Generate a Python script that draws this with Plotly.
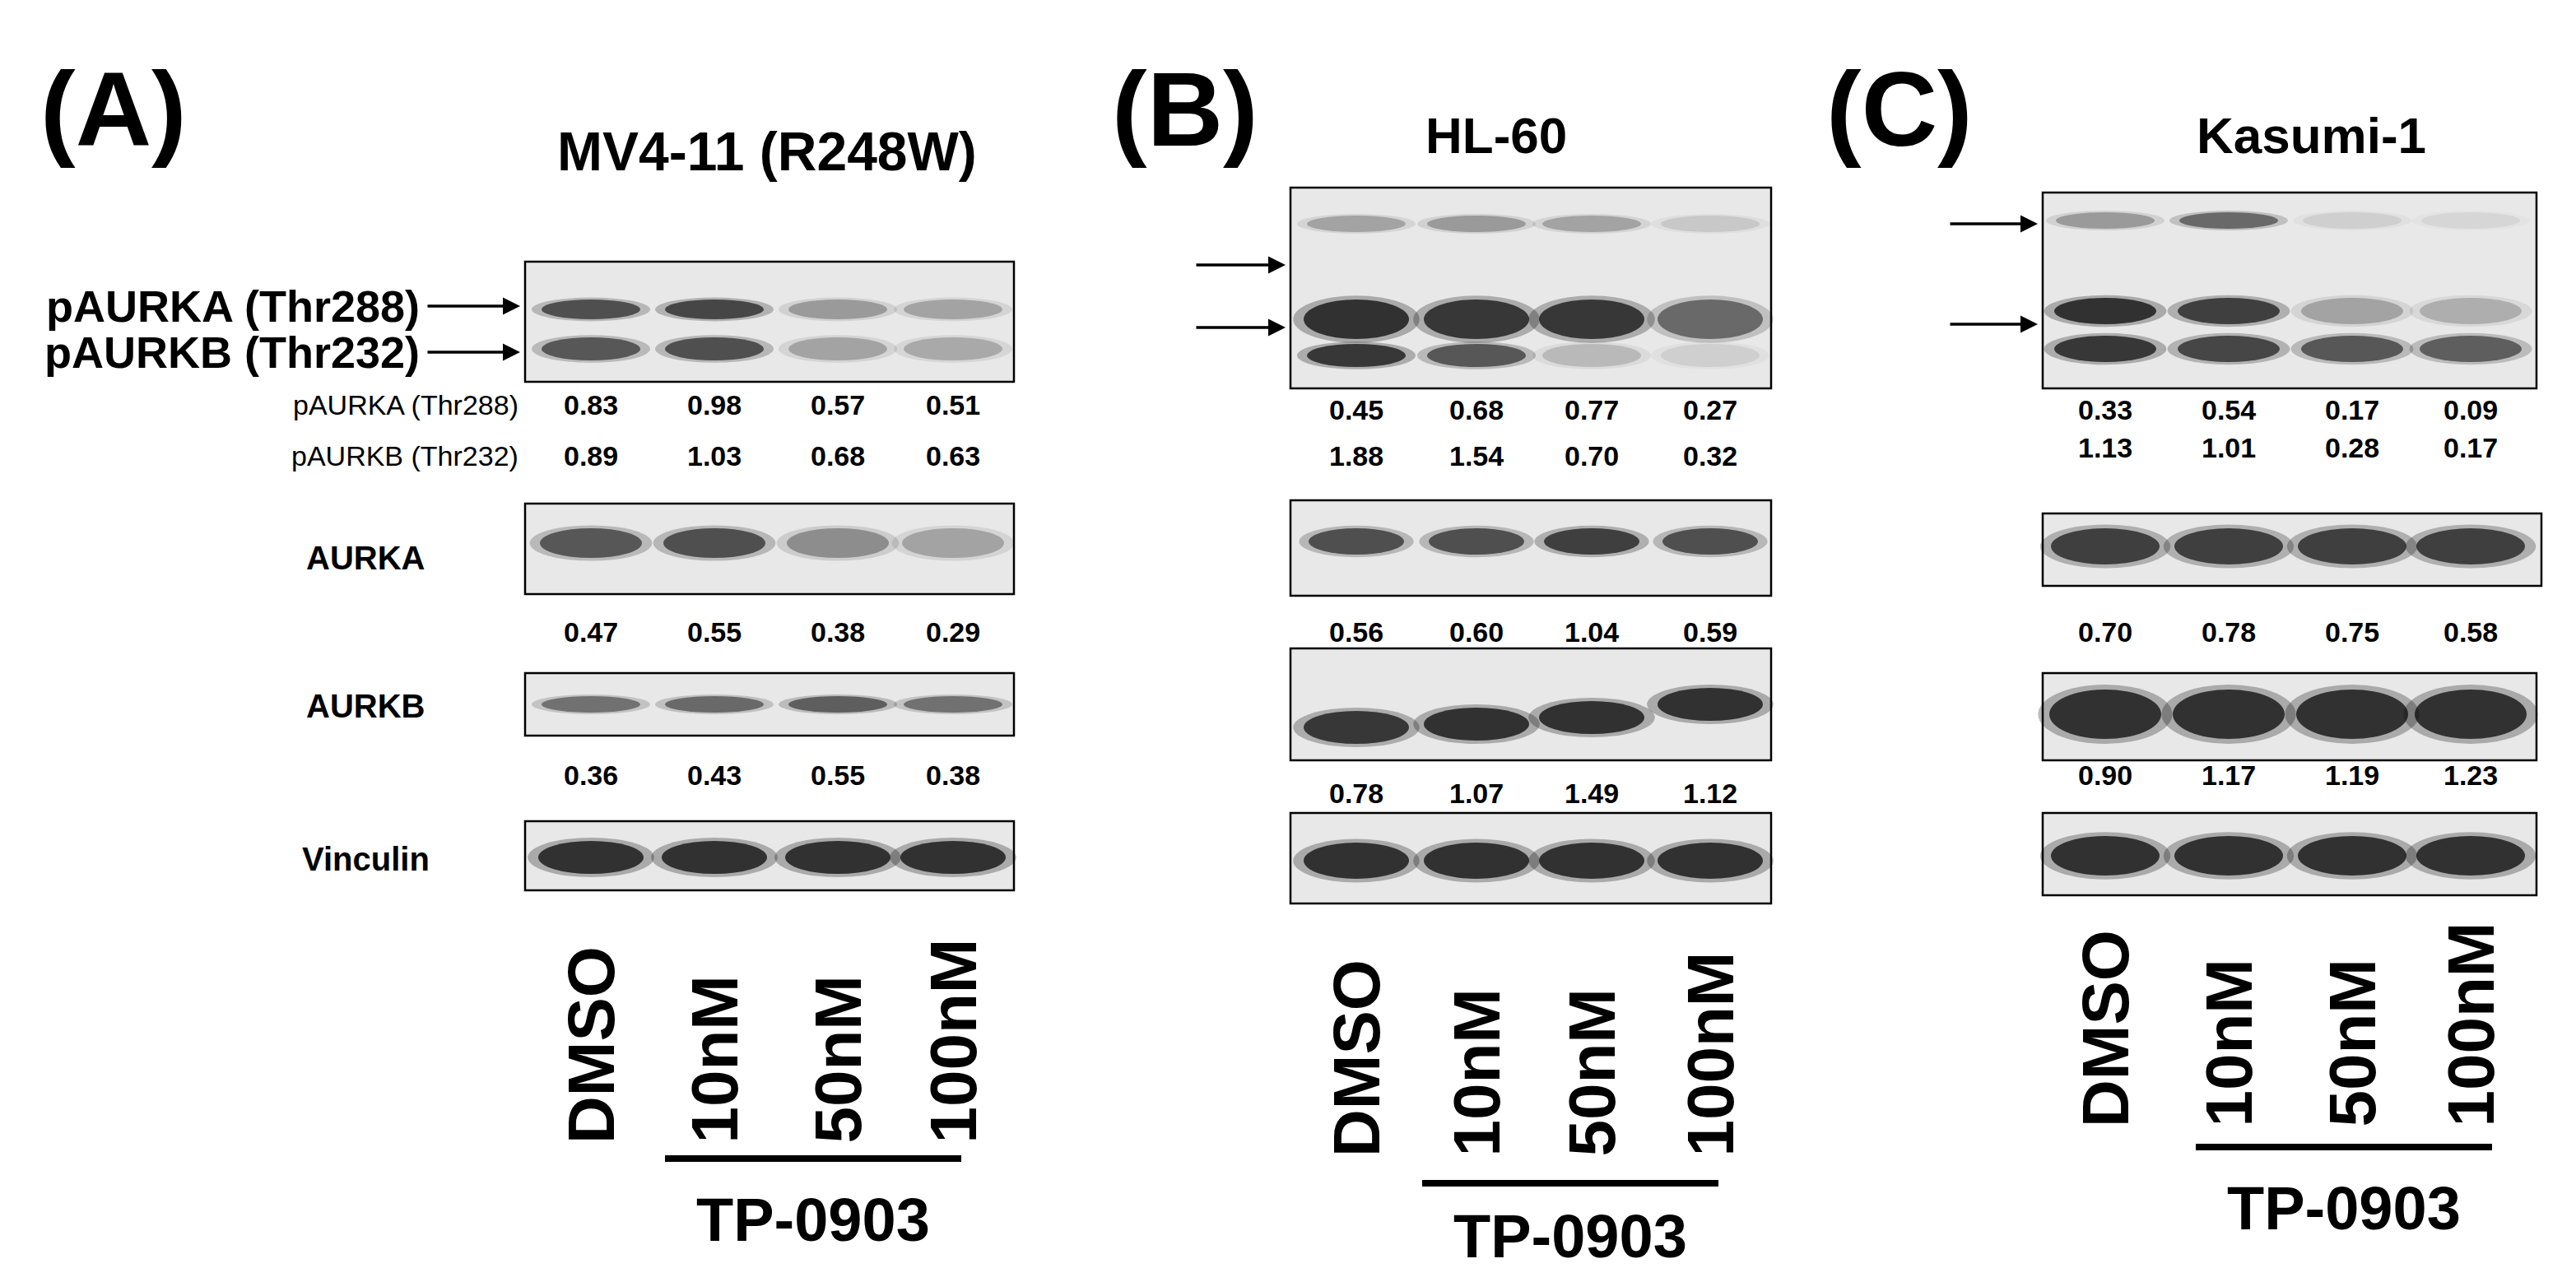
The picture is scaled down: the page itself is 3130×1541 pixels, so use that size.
import plotly.graph_objects as go

# ---------------- data ----------------
lanes = ["DMSO", "10nM", "50nM", "100nM"]
treatment = "TP-0903"

titleA = "MV4-11 (R248W)"
pA_pAURKA = ["0.83", "0.98", "0.57", "0.51"]
pA_pAURKB = ["0.89", "1.03", "0.68", "0.63"]
pA_AURKA = ["0.47", "0.55", "0.38", "0.29"]
pA_AURKB = ["0.36", "0.43", "0.55", "0.38"]

titleB = "HL-60"
pB_pAURKA = ["0.45", "0.68", "0.77", "0.27"]
pB_pAURKB = ["1.88", "1.54", "0.70", "0.32"]
pB_AURKA = ["0.56", "0.60", "1.04", "0.59"]
pB_AURKB = ["0.78", "1.07", "1.49", "1.12"]

titleC = "Kasumi-1"
pC_pAURKA = ["0.33", "0.54", "0.17", "0.09"]
pC_pAURKB = ["1.13", "1.01", "0.28", "0.17"]
pC_AURKA = ["0.70", "0.78", "0.75", "0.58"]
pC_AURKB = ["0.90", "1.17", "1.19", "1.23"]

# band darkness (0..1) per lane
bandsA = {"p_up": [0.75, 0.8, 0.35, 0.3], "p_dn": [0.7, 0.75, 0.3, 0.28],
          "aurka": [0.7, 0.75, 0.4, 0.3], "aurkb": [0.55, 0.6, 0.65, 0.55], "vinc": [0.95] * 4}
bandsB = {"p_top": [0.3, 0.35, 0.3, 0.12], "p_mid": [0.95, 0.9, 0.9, 0.6], "p_low": [0.9, 0.7, 0.2, 0.1],
          "aurka": [0.75, 0.75, 0.85, 0.75], "aurkb": [0.9, 0.95, 0.95, 0.95], "vinc": [0.95] * 4}
bandsC = {"p_top": [0.35, 0.6, 0.1, 0.08], "p_mid": [0.95, 0.85, 0.3, 0.25], "p_low": [0.9, 0.8, 0.7, 0.65],
          "aurka": [0.85, 0.85, 0.85, 0.85], "aurkb": [0.95] * 4, "vinc": [0.95] * 4}

fig = go.Figure()
fig.add_trace(go.Scatter(x=[0, 1565], y=[0, 770], mode="markers", marker=dict(opacity=0), hoverinfo="skip"))
S = 2
FONT = "Liberation Sans"
shapes, ann = [], []

def text(x, y, t, size, anchor="center", angle=0, bold=True, yanchor="middle"):
    ann.append(dict(x=x, y=y, text=f"<b>{t}</b>" if bold else t, showarrow=False, xref="x", yref="y",
                    xanchor=anchor, yanchor=yanchor, textangle=angle,
                    font=dict(family=FONT, size=size * S, color="black")))

def box(x0, x1, y0, y1):
    shapes.append(dict(type="rect", x0=x0, x1=x1, y0=y0, y1=y1, xref="x", yref="y",
                       fillcolor="#e8e8e8", line=dict(color="black", width=2.5), layer="below"))

def bands(xs, yc, h, w, dark):
    for x, d in zip(xs, dark):
        for k, sc in [(0.3, 1.2), (0.8, 1.0)]:
            shapes.append(dict(type="circle", x0=x - w / 2 * sc, x1=x + w / 2 * sc, y0=yc - h / 2 * sc,
                               y1=yc + h / 2 * sc, xref="x", yref="y",
                               fillcolor=f"rgba(10,10,10,{d * k:.2f})", line=dict(width=0)))

def arrow(x0, x1, y, label=None):
    ann.append(dict(x=x1, y=y, ax=x0, ay=y, axref="x", ayref="y", xref="x", yref="y", text="",
                    showarrow=True, arrowhead=2, arrowsize=1.2, arrowwidth=3.5, arrowcolor="black"))
    if label:
        text(x0 - 3, y, label, 27, anchor="right")

def values(xs, y, vals):
    for x, v in zip(xs, vals):
        text(x, y, v, 17)

def lanelabels(xs, ybot, bar_x0, bar_x1, bar_y, ty):
    for x, l in zip(xs, lanes):
        text(x, ybot, l, 40, angle=-90, anchor="center", yanchor="bottom")
    shapes.append(dict(type="line", x0=bar_x0, x1=bar_x1, y0=bar_y, y1=bar_y, xref="x", yref="y",
                       line=dict(color="black", width=8)))
    text((bar_x0 + bar_x1) / 2, ty, treatment, 37)

# ---------- Panel A ----------
xa = [355, 430, 505, 575]
text(65, 62, "(A)", 64)
text(462, 88, titleA, 33)
box(315, 612, 155, 228); bands(xa, 184, 12, 60, bandsA["p_up"]); bands(xa, 208, 14, 60, bandsA["p_dn"])
arrow(255, 312, 182, "pAURKA (Thr288)"); arrow(255, 312, 210, "pAURKB (Thr232)")
text(312, 242, "pAURKA (Thr288)", 17, anchor="right", bold=False); values(xa, 242, pA_pAURKA)
text(312, 273, "pAURKB (Thr232)", 17, anchor="right", bold=False); values(xa, 273, pA_pAURKB)
box(315, 612, 302, 357); bands(xa, 326, 18, 62, bandsA["aurka"]); text(218, 335, "AURKA", 20)
values(xa, 380, pA_AURKA)
box(315, 612, 405, 443); bands(xa, 424, 10, 60, bandsA["aurkb"]); text(218, 425, "AURKB", 20)
values(xa, 467, pA_AURKB)
box(315, 612, 495, 537); bands(xa, 517, 20, 64, bandsA["vinc"]); text(218, 518, "Vinculin", 20)
lanelabels(xa, 692, 400, 580, 700, 737)

# ---------- Panel B ----------
xb = [820, 893, 963, 1035]
text(716, 62, "(B)", 64)
text(905, 78, titleB, 31)
box(780, 1072, 110, 232); bands(xb, 132, 10, 60, bandsB["p_top"]); bands(xb, 190, 24, 64, bandsB["p_mid"])
bands(xb, 212, 14, 60, bandsB["p_low"])
arrow(722, 777, 157); arrow(722, 777, 195)
values(xb, 245, pB_pAURKA); values(xb, 273, pB_pAURKB)
box(780, 1072, 300, 358); bands(xb, 325, 16, 58, bandsB["aurka"]); values(xb, 380, pB_AURKA)
box(780, 1072, 390, 458)
for x, yc, d in zip(xb, [438, 436, 432, 424], bandsB["aurkb"]):
    bands([x], yc, 20, 64, [d])
values(xb, 478, pB_AURKB)
box(780, 1072, 490, 545); bands(xb, 519, 22, 64, bandsB["vinc"])
lanelabels(xb, 700, 860, 1040, 715, 747)

# ---------- Panel C ----------
xc = [1275, 1350, 1425, 1497]
text(1150, 62, "(C)", 64)
text(1400, 78, titleC, 31)
box(1237, 1537, 113, 232); bands(xc, 130, 10, 60, bandsC["p_top"]); bands(xc, 185, 16, 62, bandsC["p_mid"])
bands(xc, 208, 16, 62, bandsC["p_low"])
arrow(1180, 1234, 132); arrow(1180, 1234, 193)
values(xc, 245, pC_pAURKA); values(xc, 268, pC_pAURKB)
box(1237, 1540, 308, 352); bands(xc, 328, 22, 66, bandsC["aurka"]); values(xc, 380, pC_AURKA)
box(1237, 1537, 405, 458); bands(xc, 430, 30, 68, bandsC["aurkb"]); values(xc, 467, pC_AURKB)
box(1237, 1537, 490, 540); bands(xc, 516, 24, 66, bandsC["vinc"])
lanelabels(xc, 682, 1330, 1510, 693, 730)

fig.update_layout(width=3130, height=1541, margin=dict(l=0, r=0, t=0, b=0), showlegend=False,
                  plot_bgcolor="white", paper_bgcolor="white", shapes=shapes, annotations=ann,
                  xaxis=dict(range=[0, 1565], visible=False, fixedrange=True),
                  yaxis=dict(range=[770.5, 0], visible=False, fixedrange=True))
fig.write_html("out.html")
